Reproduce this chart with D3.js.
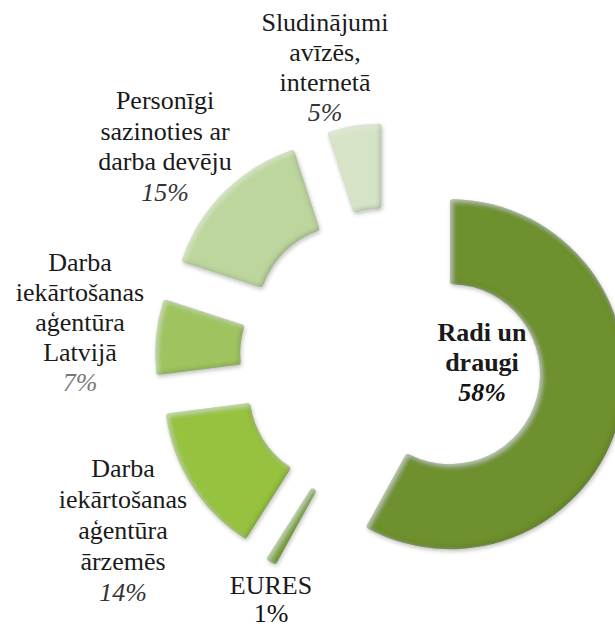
<!DOCTYPE html>
<html>
<head>
<meta charset="utf-8">
<script src="https://cdn.jsdelivr.net/npm/d3@7"></script>
</head>
<body style="margin:0">
<div id="chart"></div>
<script>
var width = 615;
var height = 627;

// data, clockwise from 12 o'clock
var labels = [
  ["Radi un", "draugi"],
  ["EURES"],
  ["Darba", "iekārtošanas", "aģentūra", "ārzemēs"],
  ["Darba", "iekārtošanas", "aģentūra", "Latvijā"],
  ["Personīgi", "sazinoties ar", "darba devēju"],
  ["Sludinājumi", "avīzēs,", "internetā"]
];
var values = [58, 1, 14, 7, 15, 5];
var colors = ["#6e902f", "#7fa83a", "#97c23f", "#9fc45e", "#bdd69d", "#d6e3c6"];

// label block placement (first line centre) and look
var labelPos = [[482, 332], [271, 585], [123, 468], [80, 262], [165, 100], [325, 22]];
var lineGap = [30, 28, 31, 30, 30.5, 30];
var pctColor = ["#111", "#111", "#333", "#777", "#333", "#333"];

var cx = 391, cy = 359;
var outerR = 175, innerR = 90;
var explode = 61;

var svg = d3.select("#chart").append("svg")
  .attr("width", width)
  .attr("height", height);

var defs = svg.append("defs");

// soft bevel: darker rim, light rim + small shadow
var f = defs.append("filter").attr("id", "bevel")
  .attr("x", "-10%").attr("y", "-10%").attr("width", "130%").attr("height", "130%");
f.append("feGaussianBlur").attr("in", "SourceAlpha").attr("stdDeviation", 2.5).attr("result", "blur");
f.append("feOffset").attr("in", "blur").attr("dx", -1.5).attr("dy", -1.5).attr("result", "blurOff");
f.append("feComposite").attr("in", "SourceAlpha").attr("in2", "blurOff").attr("operator", "out").attr("result", "rim");
f.append("feFlood").attr("flood-color", "#2f4210").attr("flood-opacity", 0.55).attr("result", "dark");
f.append("feComposite").attr("in", "dark").attr("in2", "rim").attr("operator", "in").attr("result", "darkRim");
f.append("feOffset").attr("in", "blur").attr("dx", 1.5).attr("dy", 1.5).attr("result", "blurOff2");
f.append("feComposite").attr("in", "SourceAlpha").attr("in2", "blurOff2").attr("operator", "out").attr("result", "rim2");
f.append("feFlood").attr("flood-color", "#ffffff").attr("flood-opacity", 0.45).attr("result", "light");
f.append("feComposite").attr("in", "light").attr("in2", "rim2").attr("operator", "in").attr("result", "lightRim");
f.append("feGaussianBlur").attr("in", "SourceAlpha").attr("stdDeviation", 2).attr("result", "sh");
f.append("feOffset").attr("in", "sh").attr("dx", 1).attr("dy", 2).attr("result", "shOff");
f.append("feComponentTransfer").attr("in", "shOff").attr("result", "shadow")
  .append("feFuncA").attr("type", "linear").attr("slope", 0.25);
var m = f.append("feMerge");
m.append("feMergeNode").attr("in", "shadow");
m.append("feMergeNode").attr("in", "SourceGraphic");
m.append("feMergeNode").attr("in", "darkRim");
m.append("feMergeNode").attr("in", "lightRim");

var pie = d3.pie().sort(null).value(function(d) { return d; });
var arc = d3.arc().innerRadius(innerR).outerRadius(outerR).cornerRadius(3);

var arcs = pie(values);

var g = svg.append("g").attr("transform", "translate(" + cx + "," + cy + ")");

g.selectAll("path")
  .data(arcs)
  .enter()
  .append("path")
  .attr("d", arc)
  .attr("fill", function(d, i) { return colors[i]; })
  .attr("filter", "url(#bevel)")
  .attr("transform", function(d) {
    var mid = (d.startAngle + d.endAngle) / 2;
    return "translate(" + (explode * Math.sin(mid)) + "," + (-explode * Math.cos(mid)) + ")";
  });

// labels, one text element per line
labels.forEach(function(lines, i) {
  var all = lines.concat([values[i] + "%"]);
  all.forEach(function(s, j) {
    var last = j == all.length - 1;
    var t = svg.append("text")
      .attr("x", labelPos[i][0])
      .attr("y", labelPos[i][1] + j * lineGap[i] + 9)
      .attr("font-family", "Liberation Serif")
      .attr("font-size", 26)
      .attr("text-anchor", "middle")
      .text(s);
    if (i == 0) t.attr("font-weight", "bold");
    if (last && i != 1) t.attr("font-style", "italic");
    t.attr("fill", last ? pctColor[i] : "#1a1a1a");
  });
});

// html text below the picture so the serif faces get loaded
var pre = d3.select("body").append("div")
  .style("font-family", "Liberation Serif")
  .style("font-size", "26px");
pre.append("span").text("Darba aģentūra ");
pre.append("b").text("Radi un draugi ");
pre.append("i").text("15% ");
pre.append("b").append("i").text("58%");
</script>
</body>
</html>
